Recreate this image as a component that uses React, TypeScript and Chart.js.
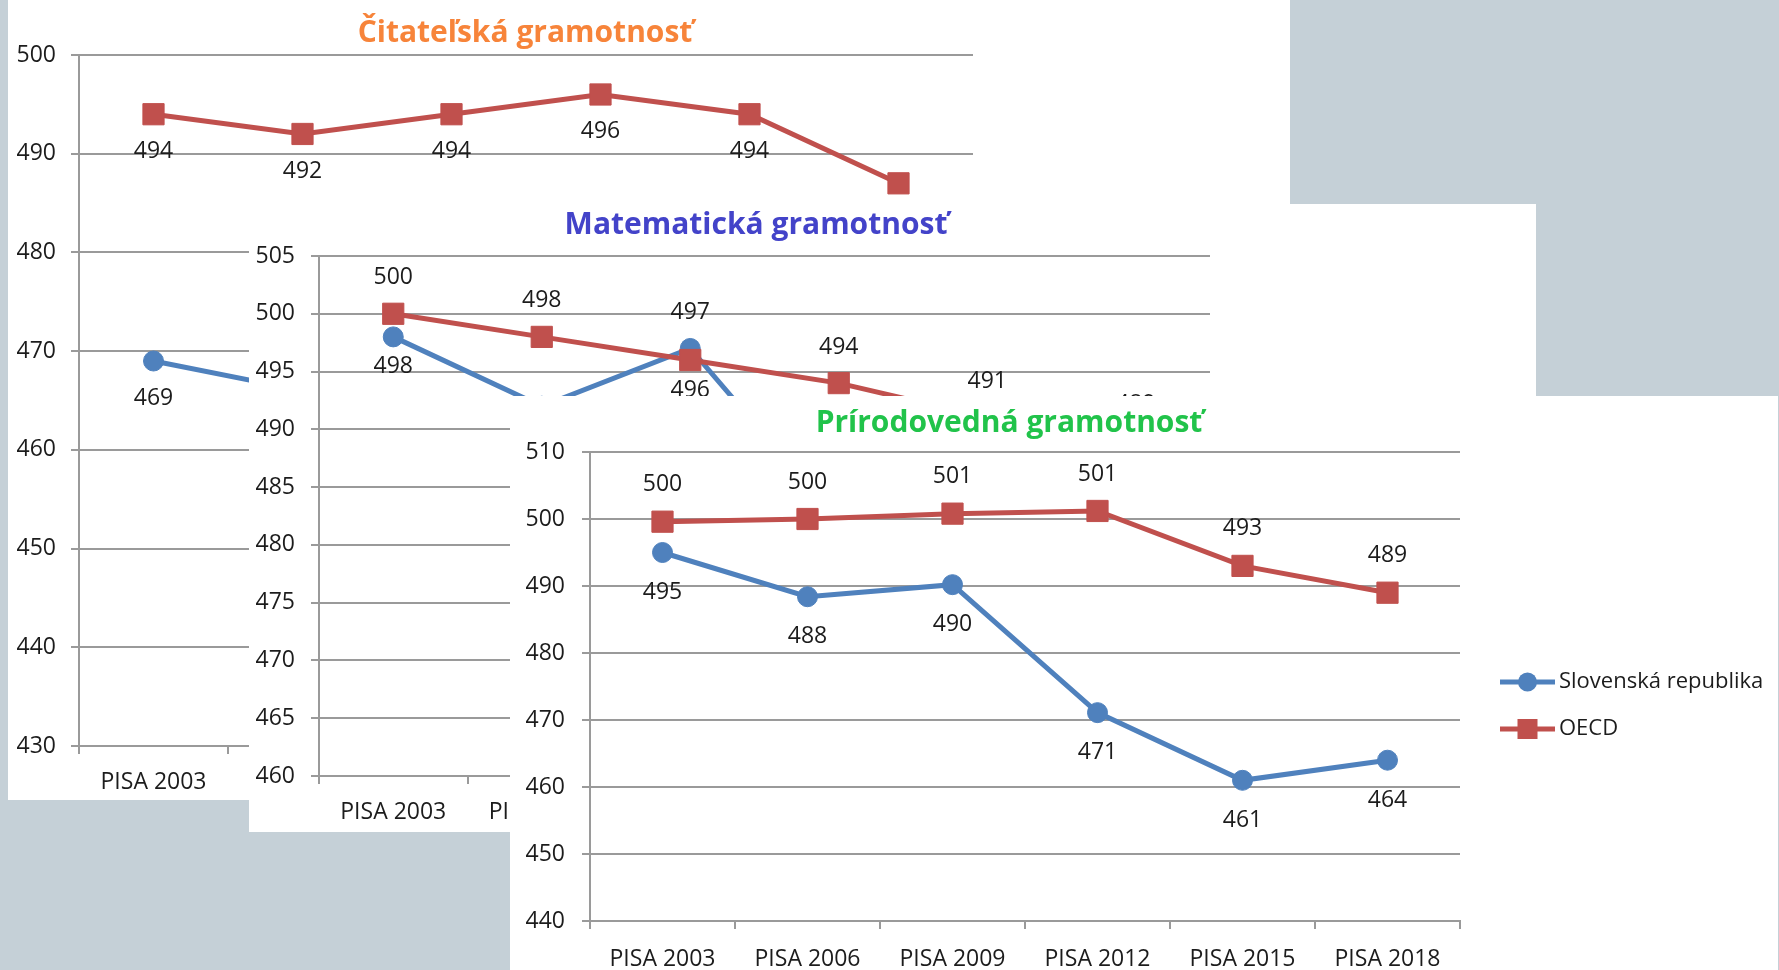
import React, { useEffect, useRef } from "react";
import { Chart, registerables } from "chart.js";

Chart.register(...registerables);

// ---------- DATA ----------
const categories = ["PISA 2003", "PISA 2006", "PISA 2009", "PISA 2012", "PISA 2015", "PISA 2018"];
const seriesNames = ["Slovenská republika", "OECD"];

const readingSK = [469, 466, 477, 463, 453, 458];
const readingOECD = [494, 492, 494, 496, 494, 487];

const mathSK = [498, 492, 497, 482, 475, 486];
const mathOECD = [500, 498, 496, 494, 491, 489];

const scienceSK = [495, 488.4, 490.2, 471.1, 461, 464];
const scienceOECD = [499.6, 500, 500.8, 501.2, 493, 489];

const readingTicks = [430, 440, 450, 460, 470, 480, 490, 500];
const mathTicks = [460, 465, 470, 475, 480, 485, 490, 495, 500, 505];
const scienceTicks = [440, 450, 460, 470, 480, 490, 500, 510];

const titles = ["Čitateľská gramotnosť", "Matematická gramotnosť", "Prírodovedná gramotnosť"];

// ---------- STYLE ----------
const SK_COLOR = "#4f81bd";
const OECD_COLOR = "#c0504d";
const GRID = "#9a9a9a";
const TEXT = "#1c1c1c";
const FONT = "Open Sans";

const titlePlugin = {
  id: "panelTitle",
  afterDraw(chart: any, _a: any, o: any) {
    if (!o || !o.text) return;
    const ctx = chart.ctx;
    ctx.save();
    ctx.font = `bold ${o.size}px "${FONT}"`;
    ctx.fillStyle = o.color;
    ctx.textAlign = "center";
    ctx.textBaseline = "alphabetic";
    ctx.fillText(o.text, o.x, o.y);
    ctx.restore();
  },
};

const valueLabelPlugin = {
  id: "valueLabels",
  afterDatasetsDraw(chart: any, _a: any, o: any) {
    const ctx = chart.ctx;
    ctx.save();
    ctx.font = `${o.size}px "${FONT}"`;
    ctx.fillStyle = TEXT;
    ctx.textAlign = "center";
    ctx.textBaseline = "middle";
    const ds = chart.data.datasets;
    ds.forEach((d: any, di: number) => {
      const meta = chart.getDatasetMeta(di);
      meta.data.forEach((pt: any, i: number) => {
        const v = d.data[i];
        let above = false;
        if (o.mode !== "below") {
          const other = ds[1 - di].data[i];
          above = v >= other;
        }
        const y = above ? pt.y - o.above : pt.y + o.below;
        ctx.fillText(String(Math.round(v)), pt.x, y);
      });
    });
    ctx.restore();
  },
};

const legendPlugin = {
  id: "sideLegend",
  afterDraw(chart: any, _a: any, o: any) {
    if (!o || !o.show) return;
    const ctx = chart.ctx;
    ctx.save();
    const ds = chart.data.datasets;
    ds.forEach((d: any, i: number) => {
      const y = o.y + i * o.gap;
      ctx.strokeStyle = d.borderColor;
      ctx.lineWidth = 5;
      ctx.beginPath();
      ctx.moveTo(o.x, y);
      ctx.lineTo(o.x + o.lineLen, y);
      ctx.stroke();
      ctx.fillStyle = d.borderColor;
      const cx = o.x + o.lineLen / 2;
      if (d.pointStyle === "rect") {
        ctx.fillRect(cx - 10, y - 10, 20, 20);
      } else {
        ctx.beginPath();
        ctx.arc(cx, y, 9.5, 0, Math.PI * 2);
        ctx.fill();
      }
      ctx.fillStyle = TEXT;
      ctx.font = `${o.size}px "${FONT}"`;
      ctx.textAlign = "left";
      ctx.textBaseline = "middle";
      ctx.fillText(d.label, o.x + o.lineLen + 4, y);
    });
    ctx.restore();
  },
};

type PanelCfg = {
  left: number; top: number; w: number; h: number;
  L: number; T: number; R: number; B: number;
  ticks: number[];
  sk: number[]; oecd: number[];
  title: string; titleColor: string; titleX: number; titleY: number;
  mode: string; above: number; below: number;
  tickPad: number; xPad: number;
  legend?: any;
};

const panels: PanelCfg[] = [
  {
    left: 8, top: 0, w: 1282, h: 800, L: 71, T: 55, R: 965, B: 746,
    ticks: readingTicks, sk: readingSK, oecd: readingOECD,
    title: titles[0], titleColor: "#f7843a", titleX: 517, titleY: 42,
    mode: "below", above: 34, below: 37, tickPad: 15, xPad: 15,
  },
  {
    left: 249, top: 204, w: 1287, h: 628, L: 70, T: 52, R: 961, B: 572,
    ticks: mathTicks, sk: mathSK, oecd: mathOECD,
    title: titles[1], titleColor: "#4343c9", titleX: 507, titleY: 30,
    mode: "auto", above: 36, below: 30, tickPad: 16, xPad: 15,
  },
  {
    left: 510, top: 396, w: 1268, h: 574, L: 80, T: 56, R: 950, B: 525,
    ticks: scienceTicks, sk: scienceSK, oecd: scienceOECD,
    title: titles[2], titleColor: "#21c34a", titleX: 499, titleY: 36,
    mode: "auto", above: 37, below: 40, tickPad: 17, xPad: 17,
    legend: { show: true, x: 990, y: 286, gap: 47, lineLen: 55, size: 22 },
  },
];

function Panel({ cfg }: { cfg: PanelCfg }) {
  const ref = useRef<HTMLCanvasElement | null>(null);
  useEffect(() => {
    const c = cfg;
    const step = c.ticks[1] - c.ticks[0];
    const chart = new Chart(ref.current as HTMLCanvasElement, {
      type: "line",
      data: {
        labels: categories,
        datasets: [
          {
            label: seriesNames[0], data: c.sk, borderColor: SK_COLOR, backgroundColor: SK_COLOR,
            borderWidth: 5, pointStyle: "circle", pointRadius: 10, pointBorderWidth: 1,
            pointBackgroundColor: SK_COLOR, pointBorderColor: SK_COLOR, order: 1, tension: 0,
          },
          {
            label: seriesNames[1], data: c.oecd, borderColor: OECD_COLOR, backgroundColor: OECD_COLOR,
            borderWidth: 5, pointStyle: "rect", pointRadius: 15, pointBorderWidth: 1,
            pointBackgroundColor: OECD_COLOR, pointBorderColor: OECD_COLOR, order: 0, tension: 0,
          },
        ],
      },
      options: {
        responsive: false,
        animation: false,
        devicePixelRatio: 1,
        layout: { padding: { left: 0, top: c.T, right: c.w - c.R, bottom: 0 } },
        scales: {
          x: {
            type: "category",
            offset: true,
            ticks: { color: TEXT, font: { family: FONT, size: 23 }, padding: c.xPad, maxRotation: 0, autoSkip: false },
            grid: { offset: true, drawOnChartArea: false, drawTicks: true, tickLength: 8, color: GRID, lineWidth: 2 },
            border: { display: true, color: GRID, width: 2 },
            afterFit: (s: any) => { s.height = c.h - c.B; },
          },
          y: {
            min: c.ticks[0],
            max: c.ticks[c.ticks.length - 1],
            ticks: { stepSize: step, color: TEXT, font: { family: FONT, size: 23 }, padding: c.tickPad },
            grid: { color: GRID, lineWidth: 2, drawTicks: true, tickLength: 8 },
            border: { display: true, color: GRID, width: 2 },
            afterFit: (s: any) => { s.width = c.L; },
          },
        },
        plugins: {
          legend: { display: false },
          tooltip: { enabled: false },
          title: { display: false },
          panelTitle: { text: c.title, color: c.titleColor, x: c.titleX, y: c.titleY, size: 30 },
          valueLabels: { mode: c.mode, above: c.above, below: c.below, size: 23 },
          sideLegend: c.legend || { show: false },
        } as any,
      },
      plugins: [titlePlugin, valueLabelPlugin, legendPlugin],
    } as any);
    return () => chart.destroy();
  }, [cfg]);
  return (
    <div style={{ position: "absolute", left: cfg.left, top: cfg.top, width: cfg.w, height: cfg.h, background: "#ffffff" }}>
      <canvas ref={ref} width={cfg.w} height={cfg.h} style={{ display: "block", width: cfg.w, height: cfg.h }} />
    </div>
  );
}

export default function App() {
  return (
    <div style={{ position: "fixed", left: 0, top: 0, width: 1779, height: 970, background: "#c5d0d7", overflow: "hidden" }}>
      {panels.map((p, i) => (
        <Panel key={i} cfg={p} />
      ))}
      <div style={{ position: "absolute", left: 1778, top: 396, width: 1, height: 574, background: "#c5d0d7" }} />
    </div>
  );
}
